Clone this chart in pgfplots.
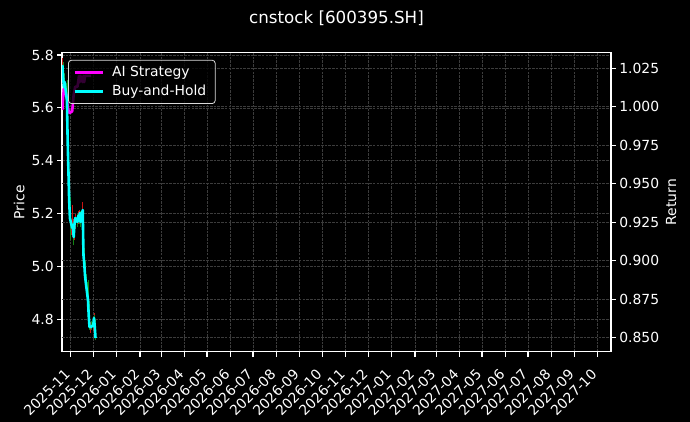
\documentclass[border=0pt]{standalone}
\usepackage{fontspec}
\setmainfont{DejaVu Sans}
\usepackage{pgfplots}
\usepackage{pgfplotstable}
\pgfplotsset{compat=1.18}

\definecolor{upred}{RGB}{200,20,20}
\definecolor{downgreen}{RGB}{20,130,20}
\definecolor{gridgray}{RGB}{60,60,60}
\definecolor{aimag}{RGB}{255,0,255}
\definecolor{bhcyan}{RGB}{0,255,255}
\newcommand\tickfont{\fontsize{13.9pt}{16pt}\selectfont}

% candles, price axis: day (from 2025-11-01), open, high, low, close
\pgfplotstableread{
d o h l c
-11 5.700 5.790 5.690 5.762
-8 5.680 5.720 5.660 5.698
2 5.120 5.232 5.110 5.146
3 5.140 5.180 5.120 5.157
5 5.110 5.175 5.100 5.157
6 5.150 5.200 5.140 5.184
10 5.165 5.210 5.160 5.191
12 5.175 5.215 5.165 5.203
16 5.170 5.245 5.160 5.214
26 4.765 4.790 4.750 4.772
30 4.770 4.800 4.755 4.779
31 4.775 4.825 4.770 4.806
}\upcandles
\pgfplotstableread{
d o h l c
-10 5.760 5.775 5.700 5.717
-9 5.715 5.730 5.665 5.679
-5 5.695 5.705 5.610 5.630
-4 5.620 5.630 5.460 5.479
-3 5.470 5.480 5.350 5.365
-2 5.360 5.370 5.230 5.252
-1 5.250 5.262 5.100 5.184
4 5.160 5.170 5.080 5.112
9 5.190 5.200 5.150 5.169
11 5.195 5.205 5.160 5.176
13 5.200 5.210 5.150 5.169
17 5.200 5.210 5.030 5.044
18 5.050 5.070 4.980 5.014
19 5.010 5.020 4.950 4.968
20 4.970 4.985 4.925 4.942
23 4.940 4.950 4.860 4.874
24 4.870 4.880 4.800 4.813
25 4.810 4.820 4.760 4.772
27 4.780 4.795 4.760 4.772
32 4.800 4.815 4.765 4.772
33 4.770 4.780 4.720 4.730
}\downcandles
% returns
\pgfplotstableread{
d r
-11 0.998
-10 1.006
-9 1.012
-8 1.012
-5 1.006
-4 1.000
-3 0.998
-2 0.996
-1 0.996
2 0.997
3 1.002
4 1.008
5 1.010
6 1.013
9 1.013
10 1.016
11 1.020
12 1.016
13 1.020
16 1.016
17 1.020
18 1.016
19 1.020
20 1.020
23 1.020
24 1.020
25 1.020
26 1.020
27 1.020
}\aistrat
\pgfplotstableread{
d r
-11 1.0271
-10 1.0193
-9 1.0128
-8 1.0161
-5 1.0044
-4 0.9784
-3 0.9589
-2 0.9394
-1 0.9277
2 0.9213
3 0.9232
4 0.9154
5 0.9232
6 0.9277
9 0.9252
10 0.9291
11 0.9265
12 0.9310
13 0.9252
16 0.9329
17 0.9037
18 0.8985
19 0.8907
20 0.8862
23 0.8745
24 0.8641
25 0.8569
26 0.8569
27 0.8569
30 0.8582
31 0.8628
32 0.8569
33 0.8498
}\buyhold

\pgfplotsset{
  common/.style={
    at={(0pt,0pt)}, anchor=south west,
    scale only axis, width=549pt, height=299pt,
    xmin=-11.5, xmax=717.2,
    axis line style={white, line width=1.1pt},
    tick style={white, line width=1.1pt},
    major tick length=4.86pt, tick align=outside,
    ticklabel style={text=white, font=\tickfont},
    label style={text=white, font=\tickfont},
    /pgf/number format/assume math mode=true,
    major grid style={gridgray, line width=0.5pt, dash pattern=on 2.6pt off 1.1pt},
  },
}

\begin{document}
\begin{tikzpicture}
\fill[black] (-62pt,-70.3pt) rectangle (628pt,351.7pt);
\begin{axis}[common,
  ymin=4.6775, ymax=5.8087,
  xtick pos=bottom, ytick pos=left,
  xtick={0,30,61,92,120,151,181,212,242,273,304,334,365,395,426,457,485,516,546,577,607,638,669,699},
  xticklabels={2025-11,2025-12,2026-01,2026-02,2026-03,2026-04,2026-05,2026-06,2026-07,2026-08,2026-09,2026-10,2026-11,2026-12,2027-01,2027-02,2027-03,2027-04,2027-05,2027-06,2027-07,2027-08,2027-09,2027-10},
  xticklabel style={xshift=-7pt, yshift=-11.4pt, rotate=45, anchor=north east, inner sep=0pt},
  ytick={4.8,5.0,5.2,5.4,5.6,5.8},
  yticklabel style={/pgf/number format/.cd, fixed, fixed zerofill, precision=1},
  xmajorgrids, ymajorgrids,
  ylabel={Price},
]
\addplot[draw=none, mark=none, forget plot, error bars/.cd, y dir=plus, y explicit,
  error mark=none, error bar style={draw=upred, line width=0.7pt}]
  table[x=d, y=l, y error plus expr=\thisrow{h}-\thisrow{l}] {\upcandles};
\addplot[draw=none, mark=none, forget plot, error bars/.cd, y dir=plus, y explicit,
  error mark=none, error bar style={draw=upred, line width=1.6pt}]
  table[x=d, y=o, y error plus expr=\thisrow{c}-\thisrow{o}] {\upcandles};
\addplot[draw=none, mark=none, forget plot, error bars/.cd, y dir=plus, y explicit,
  error mark=none, error bar style={draw=downgreen, line width=0.7pt}]
  table[x=d, y=l, y error plus expr=\thisrow{h}-\thisrow{l}] {\downcandles};
\addplot[draw=none, mark=none, forget plot, error bars/.cd, y dir=plus, y explicit,
  error mark=none, error bar style={draw=downgreen, line width=1.6pt}]
  table[x=d, y=c, y error plus expr=\thisrow{o}-\thisrow{c}] {\downcandles};
\end{axis}
\begin{axis}[common,
  ymin=0.8409, ymax=1.0351,
  axis x line=none, axis y line*=right, y axis line style={-},
  ytick pos=right,
  ytick={0.85,0.875,0.9,0.925,0.95,0.975,1.0,1.025},
  yticklabel style={/pgf/number format/.cd, fixed, fixed zerofill, precision=3},
  ymajorgrids,
  ylabel={Return},
  legend style={at={(axis description cs:0.011,0.976)}, anchor=north west,
    draw=white!85!black, line width=0.8pt, rounded corners=3pt, fill=black, fill opacity=0.8,
    text opacity=1, text=white, font=\tickfont, inner xsep=5pt, inner ysep=2.5pt,
    row sep=0pt, column sep=4pt, nodes={inner xsep=4pt, inner ysep=3.6pt}},
  legend cell align=left,
  legend image code/.code={\draw[#1] (0pt,0pt) -- (28pt,0pt);},
]
\addplot[aimag, line width=2.6pt, line join=round] table[x=d, y=r] {\aistrat};
\addlegendentry{AI Strategy}
\addplot[bhcyan, line width=2.6pt, line join=round] table[x=d, y=r] {\buyhold};
\addlegendentry{Buy-and-Hold}
\end{axis}
\node[text=white, font=\fontsize{16.7pt}{19pt}\selectfont, anchor=base] at (274.5pt,327.7pt) {cnstock [600395.SH]};
\pgfresetboundingbox
\path[use as bounding box] (-62pt,-70.3pt) rectangle (628pt,351.7pt);
\end{tikzpicture}
\end{document}
